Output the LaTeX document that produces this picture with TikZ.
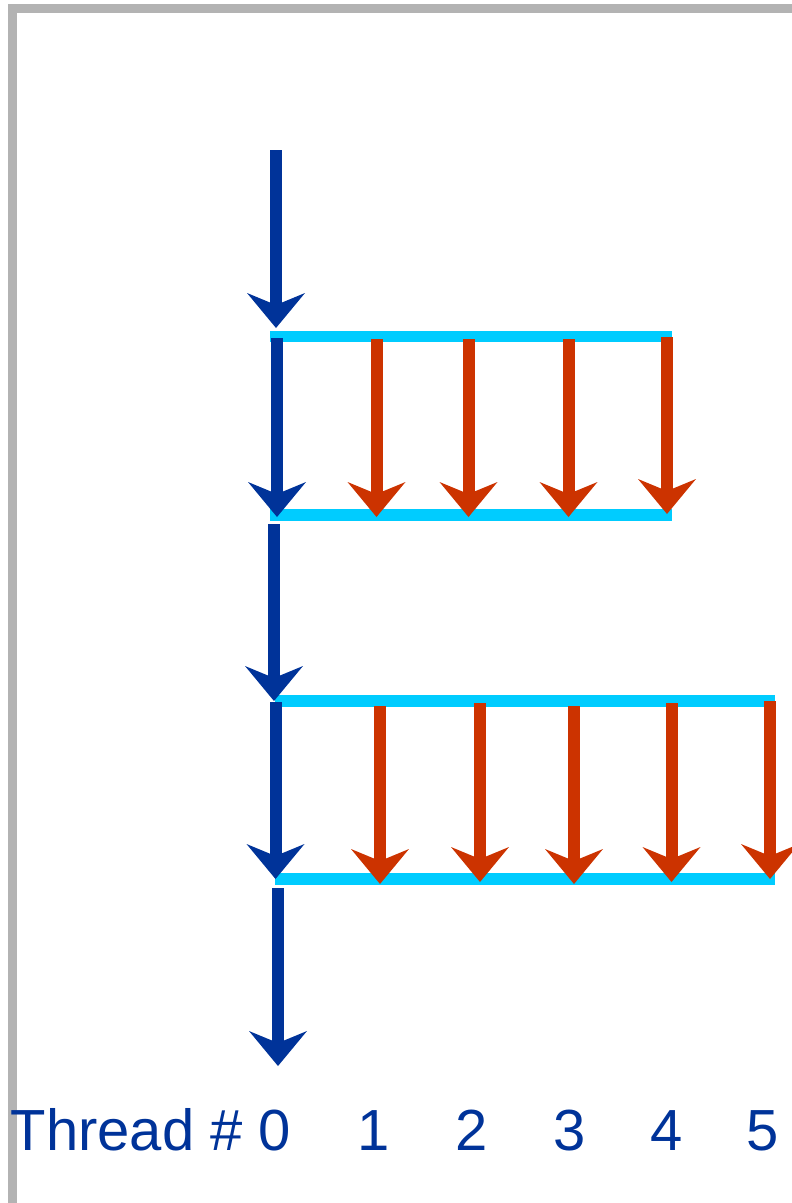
\documentclass[tikz,border=0pt]{standalone}
\usepackage{fontspec}
\setmainfont{Liberation Sans}
\usetikzlibrary{arrows.meta}
\definecolor{threadblue}{RGB}{0,51,153}
\definecolor{taskred}{RGB}{204,51,0}
\definecolor{barcyan}{RGB}{0,204,255}
\definecolor{framegray}{RGB}{179,179,179}

\begin{document}
\begin{tikzpicture}[x=1pt,y=-1pt,
  fat/.style={line width=12pt,
    -{Stealth[length=35pt,width=58pt,inset=12pt,line width=0pt]}},
  master/.style={fat, draw=threadblue},
  worker/.style={fat, draw=taskred},
  bar/.style={line width=11.5pt, draw=barcyan},
  numlabel/.style={text=threadblue, inner sep=0pt, anchor=base,
    font=\fontsize{58}{70}\selectfont}]
\useasboundingbox (0,0) rectangle (792,1203);

% page frame (top and left edges)
\draw[framegray, line width=9pt] (12.5,1250) -- (12.5,8.5) -- (850,8.5);

% fork / join bars
\coordinate (f1a) at (270,336.5); \coordinate (f1b) at (672,336.5);
\coordinate (j1a) at (270,515);   \coordinate (j1b) at (672,515);
\coordinate (f2a) at (275,701);   \coordinate (f2b) at (775,701);
\coordinate (j2a) at (275,879);   \coordinate (j2b) at (775,879);
\draw[bar] (f1a) -- (f1b);
\draw[bar] (j1a) -- (j1b);
\draw[bar] (f2a) -- (f2b);
\draw[bar] (j2a) -- (j2b);

% master thread
\coordinate (m1s) at (276,150);   \coordinate (m1e) at (276,328);
\coordinate (m2s) at (277,338);   \coordinate (m2e) at (277,517);
\coordinate (m3s) at (274,524);   \coordinate (m3e) at (274,701);
\coordinate (m4s) at (275.5,702); \coordinate (m4e) at (275.5,879);
\coordinate (m5s) at (278,888);   \coordinate (m5e) at (278,1066);
\foreach \i in {1,...,5} \draw[master] (m\i s) -- (m\i e);

% first parallel region: threads 1-4
\coordinate (a1s) at (376.5,339); \coordinate (a1e) at (376.5,517);
\coordinate (a2s) at (468.5,339); \coordinate (a2e) at (468.5,517);
\coordinate (a3s) at (568.5,339); \coordinate (a3e) at (568.5,517);
\coordinate (a4s) at (667,337);   \coordinate (a4e) at (667,514);
\foreach \i in {1,...,4} \draw[worker] (a\i s) -- (a\i e);

% second parallel region: threads 1-5
\coordinate (b1s) at (380,706);   \coordinate (b1e) at (380,884);
\coordinate (b2s) at (480,703);   \coordinate (b2e) at (480,882);
\coordinate (b3s) at (574,706);   \coordinate (b3e) at (574,884);
\coordinate (b4s) at (671.5,703); \coordinate (b4e) at (671.5,882);
\coordinate (b5s) at (770,701);   \coordinate (b5e) at (770,879);
\foreach \i in {1,...,5} \draw[worker] (b\i s) -- (b\i e);

% thread numbers
\node[numlabel, anchor=base west] (t0) at (10.5,1150) {Thread \# 0};
\node[numlabel] (t1) at (374,1150) {1};
\node[numlabel] (t2) at (471.5,1150) {2};
\node[numlabel] (t3) at (569.5,1150) {3};
\node[numlabel] (t4) at (667,1150) {4};
\node[numlabel] (t5) at (763,1150) {5};
\end{tikzpicture}
\end{document}
